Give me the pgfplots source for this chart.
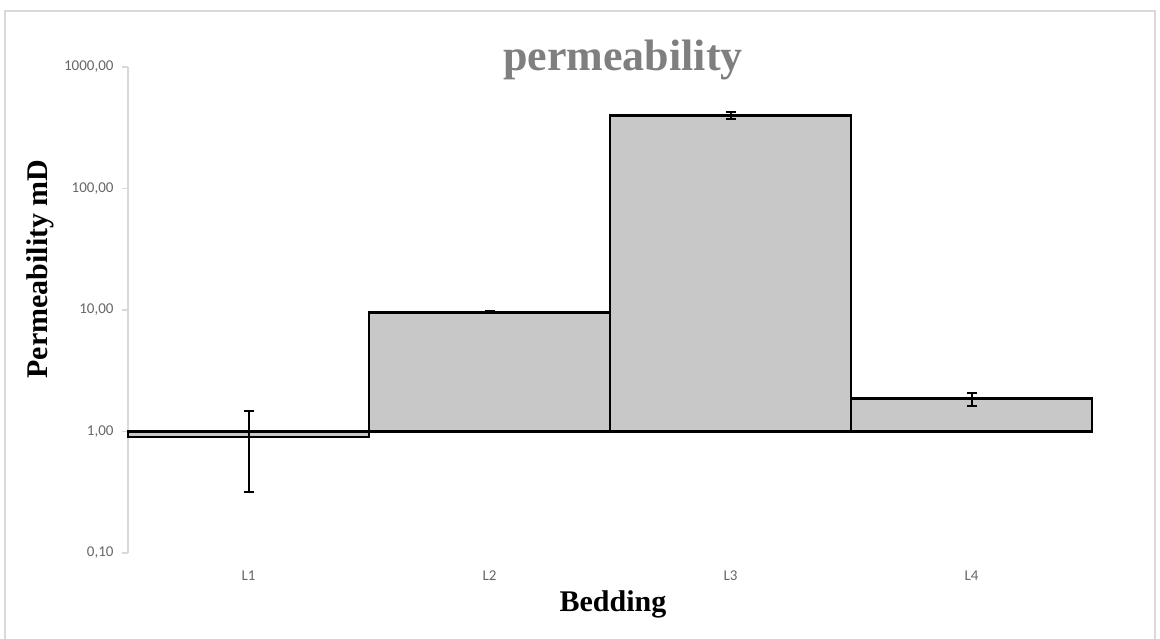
\documentclass[border=0pt]{standalone}
\usepackage{fontspec}
\setmainfont{Liberation Serif}
\newfontfamily\carlito{Carlito}
\usepackage{pgfplots}
\pgfplotsset{compat=1.18}
\definecolor{barfill}{HTML}{C8C8C8}
\definecolor{ticktxt}{HTML}{666666}
\definecolor{titlegray}{HTML}{7F7F7F}
\definecolor{framegray}{HTML}{D9D9D9}

\begin{document}
\begin{tikzpicture}[x=1pt,y=1pt]
\useasboundingbox (0,0) rectangle (1160,639);
% outer chart frame
\draw[framegray, line width=2.5pt] (5,-5) -- (5,628) -- (1155,628) -- (1155,-5);
\begin{axis}[
  at={(128pt,86pt)}, anchor=south west,
  scale only axis, width=964pt, height=486pt,
  ybar, bar width=1, log origin=0,
  ymode=log, ymin=0.1, ymax=1000,
  xmin=-0.5, xmax=3.5,
  xtick={0,1,2,3}, xticklabels={L1,L2,L3,L4},
  ytick={0.1,1,10,100,1000},
  yticklabels={{0,10},{1,00},{10,00},{100,00},{1000,00}},
  yminorticks=false,
  axis y line*=left, axis x line*=bottom,
  x axis line style={draw=none},
  y axis line style={framegray, line width=1.5pt},
  xtick style={draw=none},
  ytick style={framegray, line width=1.5pt},
  tick align=outside, major tick length=6pt,
  ticklabel style={font=\carlito\fontsize{15}{17}\selectfont, text=ticktxt},
  xticklabel style={yshift=-8pt},
  yticklabel style={xshift=-5pt},
  clip=false,
]
\addplot[fill=barfill, draw=black, line width=2.8pt,
  error bars/.cd, y dir=both, y explicit,
  error bar style={black, line width=2pt},
  error mark options={black, line width=2pt, mark size=5pt, rotate=90}]
  table[x=x, y=y, y error=e] {
  x y e
  0 0.90 0.58
  1 9.60 0.20
  2 400 28
  3 1.86 0.23
};
\end{axis}
\node[text=titlegray, font=\bfseries\fontsize{44}{48}\selectfont] at (623,579) {permeability};
\node[rotate=90, font=\bfseries\fontsize{30}{34}\selectfont] at (40,370) {Permeability mD};
\node[font=\bfseries\fontsize{30}{34}\selectfont] at (613,35) {Bedding};
\end{tikzpicture}
\end{document}
